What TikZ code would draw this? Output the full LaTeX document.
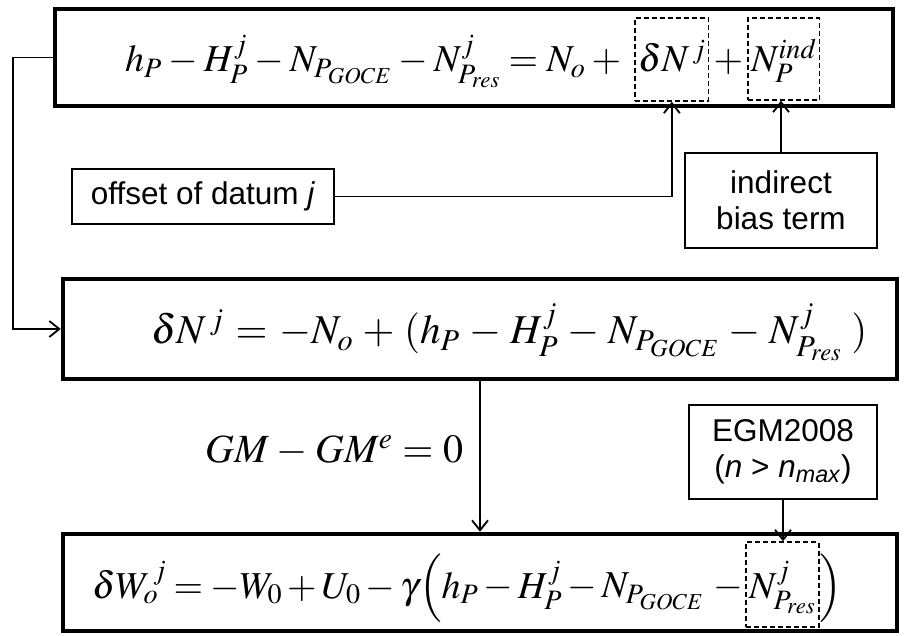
\documentclass[tikz,border=0pt]{standalone}
\usepackage{mathptmx}
\usepackage[no-math]{fontspec}
\setsansfont{Liberation Sans}
\usetikzlibrary{arrows.meta}
\newcommand{\eqsize}[1]{\fontsize{#1}{#1}\selectfont\nulldelimiterspace=0pt
  \medmuskip=4mu plus 40mu minus 2mu\thickmuskip=5mu plus 40mu minus 2mu}
\newcommand{\bigstrut}{\vrule height40pt depth22pt width0pt}
\newcommand{\gap}{\mskip 4mu plus 40mu minus 2mu}
\tikzset{
  bigbox/.style={draw, line width=4.5pt, inner sep=0pt},
  smallbox/.style={draw, line width=1.8pt, inner sep=0pt, align=center,
    font=\sffamily\fontsize{31.5}{36}\selectfont},
  eq/.style={inner sep=0pt},
  dbox/.style={draw, line width=1.5pt, dash pattern=on 5pt off 3pt,
    inner xsep=3pt, inner ysep=0pt},
  conn/.style={line width=1.8pt},
  arr/.style={conn, -{Straight Barb[length=10pt,width=16pt,line width=1.8pt]}}
}
\begin{document}
\begin{tikzpicture}[x=1pt,y=-1pt]
\useasboundingbox (0,0) rectangle (906,636);
% big boxes
\node[bigbox, minimum width=838, minimum height=97] (top) at (474,57.5) {};
\node[bigbox, minimum width=834, minimum height=100] (mid) at (480,329) {};
\node[bigbox, minimum width=834, minimum height=97] (bot) at (480,582.5) {};
% top equation
\node[eq, font=\eqsize{38}, anchor=base west] (t1) at (125,72)
  {\hbox to 496pt{$h_P - H_P^j - N_{P_{GOCE}} - N_{P_{res}}^j = N_o \gap {+}$}};
\node[dbox, font=\eqsize{38}, anchor=base west, text height=54pt, text depth=29pt] (dN)
  at ([xshift=13pt]t1.base east) {$\delta N^{\,j}$};
\node[eq, font=\eqsize{38}, anchor=base west, inner xsep=4pt] (t3) at (dN.base east) {$+$};
\node[dbox, font=\eqsize{38}, anchor=base west, text height=54pt, text depth=28pt] (Nind)
  at (t3.base east) {$N_P^{ind}$};
% middle equation
\node[eq, font=\eqsize{41}, anchor=base west] (m1) at (151,344)
  {\hbox to 716pt{$\delta N^{\,j} = -N_o + (h_P - H_P^j - N_{P_{GOCE}} - N_{P_{res}}^j \gap)$}};
% bottom equation
\node[eq, font=\eqsize{38}, anchor=base west] (b1) at (92,598)
  {\hbox to 651pt{$\delta W_o^{\,j} = -W_0 + U_0 - \gamma\mathopen{\left(\bigstrut\right.}h_P - H_P^j - N_{P_{GOCE}} \gap\gap {-}$}};
\node[dbox, font=\eqsize{38}, anchor=base west, text height=56pt, text depth=29pt] (Nres)
  at ([xshift=2pt]b1.base east) {$N_{P_{res}}^j$};
\node[eq, font=\eqsize{38}, anchor=base west] (b3) at (Nres.base east) {$\mathclose{\left.\bigstrut\right)}$};
% GM label
\node[eq, font=\eqsize{40}, anchor=base west] (gm) at (205,463)
  {\hbox to 258pt{$GM - GM^e = 0$}};
% small boxes
\node[smallbox, minimum width=262, minimum height=55] (off) at (203,196.5) {offset of datum \textit{j}};
\node[smallbox, minimum width=192, minimum height=95] (ind) at (781,200.5) {indirect\\bias term};
\node[smallbox, minimum width=188, minimum height=94] (egm) at (783,452)
  {EGM2008\\(\textit{n} > \textit{n}\textsubscript{\textit{max}})};
% connectors
\draw[arr] (top.west) -- ++(-40,0) |- (mid.west);
\draw[arr] (off.east) -| (dN.south);
\draw[arr] (ind.north) -- (ind.north |- Nind.south);
\draw[arr] (mid.south) -- (bot.north);
\draw[arr] (egm.south) -- (egm.south |- Nres.north);
\end{tikzpicture}
\end{document}
